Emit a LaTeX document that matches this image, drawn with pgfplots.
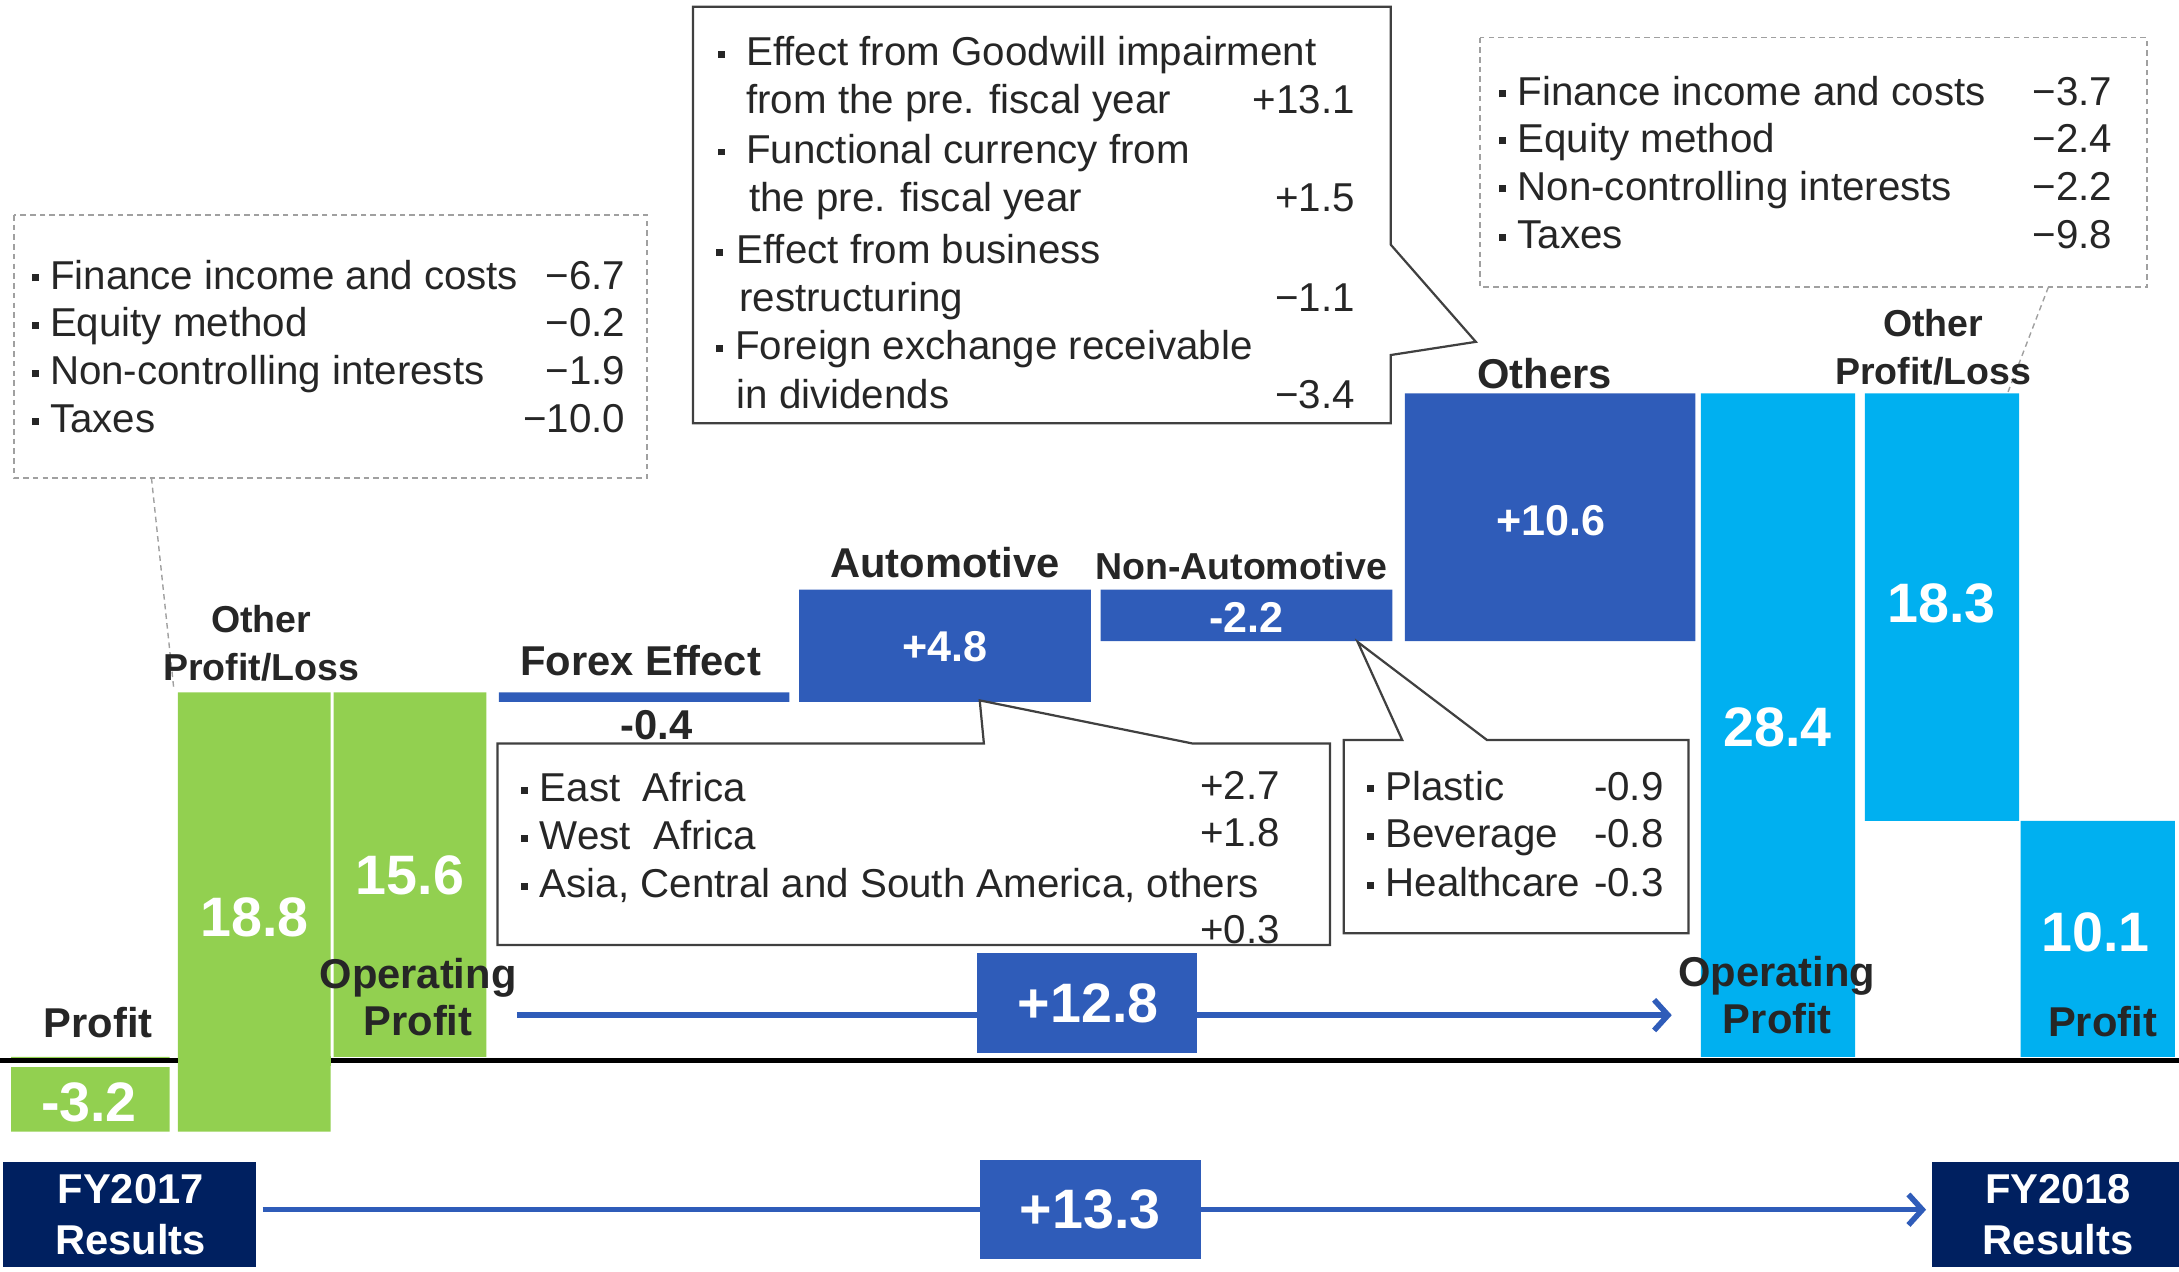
\documentclass[border=0pt]{standalone}
\usepackage{fontspec}
\setmainfont{Liberation Sans}
\usepackage{pgfplots}
\pgfplotsset{compat=1.18}
\usetikzlibrary{arrows.meta}

\definecolor{cgreen}{HTML}{92D050}
\definecolor{cblue}{HTML}{2F5CB9}
\definecolor{csky}{HTML}{00B0F0}
\definecolor{cnavy}{HTML}{002060}
\definecolor{cink}{HTML}{262626}
\definecolor{cedge}{HTML}{404040}
\definecolor{cdash}{HTML}{A0A0A0}

% font sizes
\newcommand\fbody{\fontsize{14.5}{17}\selectfont}
\newcommand\flab{\fontsize{15}{18}\selectfont\bfseries}
\newcommand\fsm{\fontsize{13.5}{16}\selectfont\bfseries}
\newcommand\fmid{\fontsize{15.5}{18}\selectfont\bfseries}
\newcommand\fbig{\fontsize{20}{24}\selectfont\bfseries}

% small square bullet used in the note boxes
\newcommand\bsq{\rule[2.8pt]{2.5pt}{2.5pt}}
% bulleted line: bullet x, text x, baseline y, text
\newcommand\bline[4]{\node[anchor=base west] at (#1,#3) {\bsq};\node[anchor=base west] at (#2,#3) {#4};}
% plain line from x
\newcommand\tline[3]{\node[anchor=base west] at (#1,#2) {#3};}
% right-aligned amount
\newcommand\rnum[3]{\node[anchor=base east] at (#1,#2) {#3};}
% centred label
\newcommand\clab[3]{\node[anchor=base] at (#1,#2) {#3};}

\begin{document}
\begin{tikzpicture}
\begin{axis}[
  at={(0pt,0pt)}, anchor=south west,
  scale only axis, width=784pt, height=457.5pt,
  xmin=0, xmax=1568, ymin=-9.191, ymax=45.241,
  hide axis, clip=false,
]
% FY2017: profit, other profit/loss, operating profit
\addplot[fill=cgreen, draw=none] coordinates {(8,0) (122,0) (122,-3.2) (8,-3.2) (8,0)};
\addplot[fill=cgreen, draw=none] coordinates {(128,-3.2) (238,-3.2) (238,15.6) (128,15.6) (128,-3.2)};
\addplot[fill=cgreen, draw=none] coordinates {(240,0) (350,0) (350,15.6) (240,15.6) (240,0)};
% bridge: forex -0.4, automotive +4.8, non-automotive -2.2, others +10.6
\addplot[fill=cblue, draw=none] coordinates {(359,15.2) (568,15.2) (568,15.6) (359,15.6) (359,15.2)};
\addplot[fill=cblue, draw=none] coordinates {(575,15.2) (785,15.2) (785,20.0) (575,20.0) (575,15.2)};
\addplot[fill=cblue, draw=none] coordinates {(792,17.8) (1002,17.8) (1002,20.0) (792,20.0) (792,17.8)};
\addplot[fill=cblue, draw=none] coordinates {(1011,17.8) (1220,17.8) (1220,28.4) (1011,28.4) (1011,17.8)};
% FY2018: operating profit, other profit/loss, profit
\addplot[fill=csky, draw=none] coordinates {(1224,0) (1335,0) (1335,28.4) (1224,28.4) (1224,0)};
\addplot[fill=csky, draw=none] coordinates {(1342,10.1) (1453,10.1) (1453,28.4) (1342,28.4) (1342,10.1)};
\addplot[fill=csky, draw=none] coordinates {(1454,0) (1565,0) (1565,10.1) (1454,10.1) (1454,0)};
\end{axis}

\begin{scope}[x=0.5pt, y=-0.5pt, shift={(0pt,457.5pt)},
  every node/.style={inner sep=0pt, outer sep=0pt}, text=cink]
% zero line, broken by the tall green bar
\fill[white] (0,765) rectangle (127,767.5);
\draw[black, line width=1.85pt] (0,763.2) -- (128,763.2);
\draw[black, line width=1.85pt] (238,763.2) -- (1568,763.2);
\fill[cgreen] (128,760) rectangle (238,767);

% dashed note boxes
\draw[cdash, line width=0.5pt, dash pattern=on 2pt off 1.5pt] (10,154.7) rectangle (465.5,344);
\draw[cdash, line width=0.5pt, dash pattern=on 2pt off 1.5pt] (109,344) -- (125,495);
\draw[cdash, line width=0.5pt, dash pattern=on 2pt off 1.5pt] (1065,27) rectangle (1545,206.6);
\draw[cdash, line width=0.5pt, dash pattern=on 2pt off 1.5pt] (1474,206.6) -- (1445,282);

% callouts
\draw[cedge, line width=0.8pt, fill=white] (498.6,4.8) -- (1000.7,4.8) -- (1000.7,176) -- (1062,246) -- (1000.7,255.5) -- (1000.7,304.5) -- (498.6,304.5) -- cycle;
\draw[cedge, line width=0.8pt, fill=white] (358,535) -- (708,535) -- (705,504) -- (858,535) -- (957,535) -- (957,680) -- (358,680) -- cycle;
\draw[cedge, line width=0.8pt, fill=white] (967,532.5) -- (1009,532.5) -- (977,462) -- (1070,532.5) -- (1215,532.5) -- (1215,671.6) -- (967,671.6) -- cycle;

% arrows and totals
\draw[cblue, line width=2pt, -{Straight Barb[length=5pt, width=11pt, line width=2pt]}] (372,730.5) -- (1203,730.5);
\draw[cblue, line width=2pt, -{Straight Barb[length=5pt, width=11pt, line width=2pt]}] (189,870.5) -- (1386,870.5);
\fill[cblue] (703,686) rectangle (861,758);
\fill[cblue] (705,835) rectangle (864,906);
\fill[cnavy] (2,836) rectangle (184,912);
\fill[cnavy] (1390,836) rectangle (1568,912);

% note text
\begin{scope}[font=\fbody]
\bline{23}{36}{208}{Finance income and costs} \rnum{450}{208}{−6.7}
\bline{23}{36}{242.5}{Equity method} \rnum{450}{242.5}{−0.2}
\bline{23}{36}{277}{Non-controlling interests} \rnum{450}{277}{−1.9}
\bline{23}{36}{311.5}{Taxes} \rnum{450}{311.5}{−10.0}

\bline{517}{537}{47}{Effect from Goodwill impairment}
\tline{537}{81.6}{from the pre. fiscal year} \rnum{975}{81.6}{+13.1}
\bline{517}{537}{117.5}{Functional currency from}
\tline{539}{152.4}{the pre. fiscal year} \rnum{975}{152.4}{+1.5}
\bline{515}{530}{189.5}{Effect from business}
\tline{532}{224.4}{restructuring} \rnum{975}{224.4}{−1.1}
\bline{515}{529}{259}{Foreign exchange receivable}
\tline{530}{294}{in dividends} \rnum{975}{294}{−3.4}

\bline{1079}{1092}{75.6}{Finance income and costs} \rnum{1520}{75.6}{−3.7}
\bline{1079}{1092}{109.5}{Equity method} \rnum{1520}{109.5}{−2.4}
\bline{1079}{1092}{144}{Non-controlling interests} \rnum{1520}{144}{−2.2}
\bline{1079}{1092}{179}{Taxes} \rnum{1520}{179}{−9.8}

\bline{375}{388.5}{577}{East\ \ Africa} \rnum{921}{575}{+2.7}
\bline{375}{388.5}{611.6}{West\ \ Africa} \rnum{921}{609.5}{+1.8}
\bline{375}{388.5}{646}{Asia, Central and South America, others}
\rnum{921}{679}{+0.3}

\bline{984}{997}{575.7}{Plastic} \rnum{1197}{575.7}{-0.9}
\bline{984}{997}{610}{Beverage} \rnum{1197}{610}{-0.8}
\bline{984}{997}{645}{Healthcare} \rnum{1197}{645}{-0.3}
\end{scope}

% category labels
\begin{scope}[font=\flab]
\clab{70.7}{746.4}{Profit}
\clab{300.8}{711}{Operating}
\clab{300.8}{744.8}{Profit}
\clab{461}{486}{Forex Effect}
\clab{472.6}{532.5}{-0.4}
\clab{680}{415.5}{Automotive}
\clab{1111.5}{279.3}{Others}
\clab{1278.6}{710}{Operating}
\clab{1279}{744}{Profit}
\clab{1513}{746}{Profit}
\end{scope}
\begin{scope}[font=\fsm]
\clab{188}{455.5}{Other}
\clab{188}{489.5}{Profit/Loss}
\clab{893}{417}{Non-Automotive}
\clab{1391}{242.5}{Other}
\clab{1391}{277}{Profit/Loss}
\end{scope}

% amounts inside the bars
\begin{scope}[font=\fbig, text=white]
\clab{64}{807}{-3.2}
\clab{183}{674}{18.8}
\clab{295}{644}{15.6}
\clab{1279}{537.5}{28.4}
\clab{1397}{448}{18.3}
\clab{1508}{685}{10.1}
\clab{783}{736}{+12.8}
\clab{784.5}{884}{+13.3}
\end{scope}
\begin{scope}[font=\fmid, text=white]
\clab{680}{476}{+4.8}
\clab{897}{455}{-2.2}
\clab{1116}{385}{+10.6}
\end{scope}
\begin{scope}[font=\flab, text=white]
\clab{94}{866}{FY2017}
\clab{94}{903}{Results}
\clab{1481}{866}{FY2018}
\clab{1481}{903}{Results}
\end{scope}
\end{scope}

\pgfresetboundingbox
\useasboundingbox (0pt,0pt) rectangle (784pt,457.5pt);
\end{tikzpicture}
\end{document}
